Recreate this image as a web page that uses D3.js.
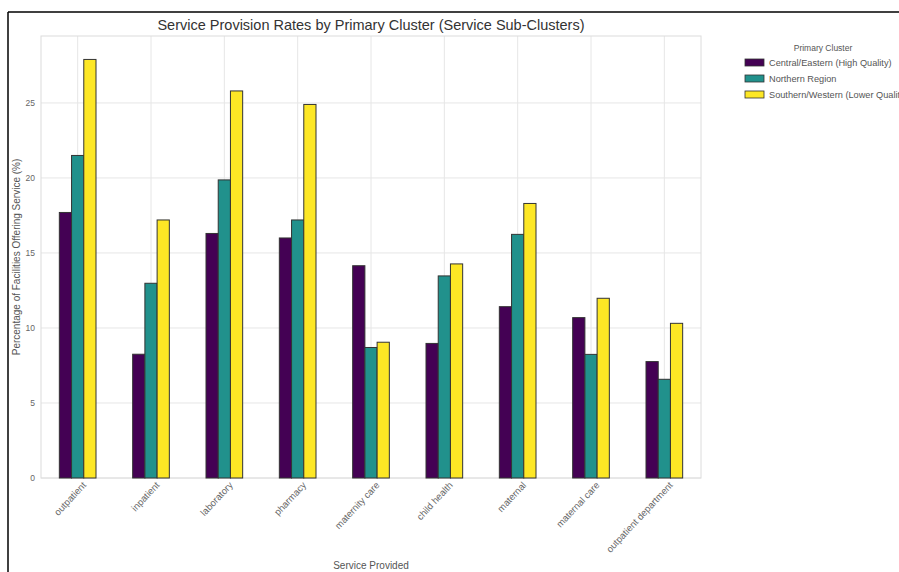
<!DOCTYPE html>
<html>
<head>
<meta charset="utf-8">
<script src="https://cdn.jsdelivr.net/npm/d3@7"></script>
<style>
  body { margin: 0; background: #fff; }
  svg { font-family: "Liberation Sans", Arial, sans-serif; }
</style>
</head>
<body>
<svg></svg>
<script>
  // Data
  const services = ["outpatient", "inpatient", "laboratory", "pharmacy", "maternity care",
    "child health", "maternal", "maternal care", "outpatient department"];
  const clusters = ["Central/Eastern (High Quality)", "Northern Region", "Southern/Western (Lower Quality)"];
  const centralEastern = [17.7, 8.25, 16.3, 16.0, 14.15, 8.97, 11.42, 10.69, 7.76];
  const northern = [21.5, 12.98, 19.87, 17.2, 8.7, 13.47, 16.24, 8.24, 6.58];
  const southernWestern = [27.9, 17.2, 25.8, 24.9, 9.05, 14.27, 18.3, 11.98, 10.31];
  const yTicks = [0, 5, 10, 15, 20, 25];
  const colors = ["#440154", "#21918c", "#fde725"];

  const series = [centralEastern, northern, southernWestern];

  const W = 899, H = 572;
  const margin = { left: 41, right: 198, top: 36, bottom: 94 };

  const svg = d3.select("svg").attr("width", W).attr("height", H);

  // outer frame (left and top edge of the screenshot)
  svg.append("line").attr("x1", 8).attr("x2", 8).attr("y1", 12).attr("y2", H)
    .attr("stroke", "#000").attr("stroke-width", 1.5);
  svg.append("line").attr("x1", 8).attr("x2", W).attr("y1", 12).attr("y2", 12)
    .attr("stroke", "#000").attr("stroke-width", 1.5);

  const x = d3.scaleBand()
    .domain(services)
    .range([margin.left, W - margin.right])
    .paddingInner(0.5).paddingOuter(0.25);

  const xSub = d3.scaleBand()
    .domain(d3.range(clusters.length))
    .range([0, x.bandwidth()]);

  const y = d3.scaleLinear()
    .domain([0, d3.max(southernWestern) * 1.056])
    .range([H - margin.bottom, margin.top]);

  const g = svg.append("g");

  // grid
  g.selectAll(".hgrid").data(yTicks).enter().append("line")
    .attr("x1", margin.left).attr("x2", W - margin.right)
    .attr("y1", d => y(d)).attr("y2", d => y(d))
    .attr("stroke", "#e6e6e6").attr("stroke-width", 1);
  g.selectAll(".vgrid").data(services).enter().append("line")
    .attr("x1", d => x(d) + x.bandwidth() / 2).attr("x2", d => x(d) + x.bandwidth() / 2)
    .attr("y1", margin.top).attr("y2", H - margin.bottom)
    .attr("stroke", "#e6e6e6").attr("stroke-width", 1);

  // plot frame
  g.append("rect")
    .attr("x", margin.left).attr("y", margin.top)
    .attr("width", W - margin.right - margin.left)
    .attr("height", H - margin.bottom - margin.top)
    .attr("fill", "none").attr("stroke", "#dcdcdc");

  // bars
  series.forEach((vals, si) => {
    g.selectAll(".bar" + si).data(vals).enter().append("rect")
      .attr("x", (d, i) => x(services[i]) + xSub(si))
      .attr("y", d => y(d))
      .attr("width", xSub.bandwidth())
      .attr("height", d => y(0) - y(d))
      .attr("fill", colors[si])
      .attr("stroke", "#333")
      .attr("stroke-width", 1);
  });

  // y axis
  const yAxis = d3.axisLeft(y).tickValues(yTicks).tickSize(0).tickPadding(6);
  const ya = svg.append("g").attr("transform", `translate(${margin.left},0)`).call(yAxis);
  ya.select(".domain").remove();
  ya.selectAll("text").attr("fill", "#666").attr("font-size", 8.5)
    .attr("font-family", "Liberation Sans, Arial, sans-serif");

  // x axis
  const xAxis = d3.axisBottom(x).tickSize(0).tickPadding(4);
  const xa = svg.append("g").attr("transform", `translate(0,${H - margin.bottom})`).call(xAxis);
  xa.select(".domain").remove();
  xa.selectAll("text")
    .attr("fill", "#666").attr("font-size", 9.5)
    .attr("font-family", "Liberation Sans, Arial, sans-serif")
    .attr("text-anchor", "end")
    .attr("dy", "0.6em")
    .attr("transform", "translate(2,1) rotate(-47)");

  // title and labels
  svg.append("text")
    .attr("x", (margin.left + W - margin.right) / 2).attr("y", 30)
    .attr("text-anchor", "middle").attr("font-size", 14.5).attr("fill", "#333")
    .text("Service Provision Rates by Primary Cluster (Service Sub-Clusters)");

  svg.append("text")
    .attr("transform", `translate(20,${(margin.top + H - margin.bottom) / 2}) rotate(-90)`)
    .attr("text-anchor", "middle").attr("font-size", 10).attr("fill", "#555")
    .text("Percentage of Facilities Offering Service (%)");

  svg.append("text")
    .attr("x", (margin.left + W - margin.right) / 2).attr("y", 569)
    .attr("text-anchor", "middle").attr("font-size", 10).attr("fill", "#555")
    .text("Service Provided");

  // legend
  const lg = svg.append("g").attr("transform", "translate(745,0)");
  lg.append("text").attr("x", 78).attr("y", 51)
    .attr("text-anchor", "middle").attr("font-size", 8.5).attr("fill", "#555")
    .text("Primary Cluster");
  clusters.forEach((c, i) => {
    lg.append("rect").attr("x", 0).attr("y", 59 + i * 16)
      .attr("width", 19).attr("height", 7)
      .attr("fill", colors[i]).attr("stroke", "#333").attr("stroke-width", 0.8);
    lg.append("text").attr("x", 24).attr("y", 66 + i * 16)
      .attr("font-size", 9.2).attr("fill", "#555").text(c);
  });
</script>
</body>
</html>
